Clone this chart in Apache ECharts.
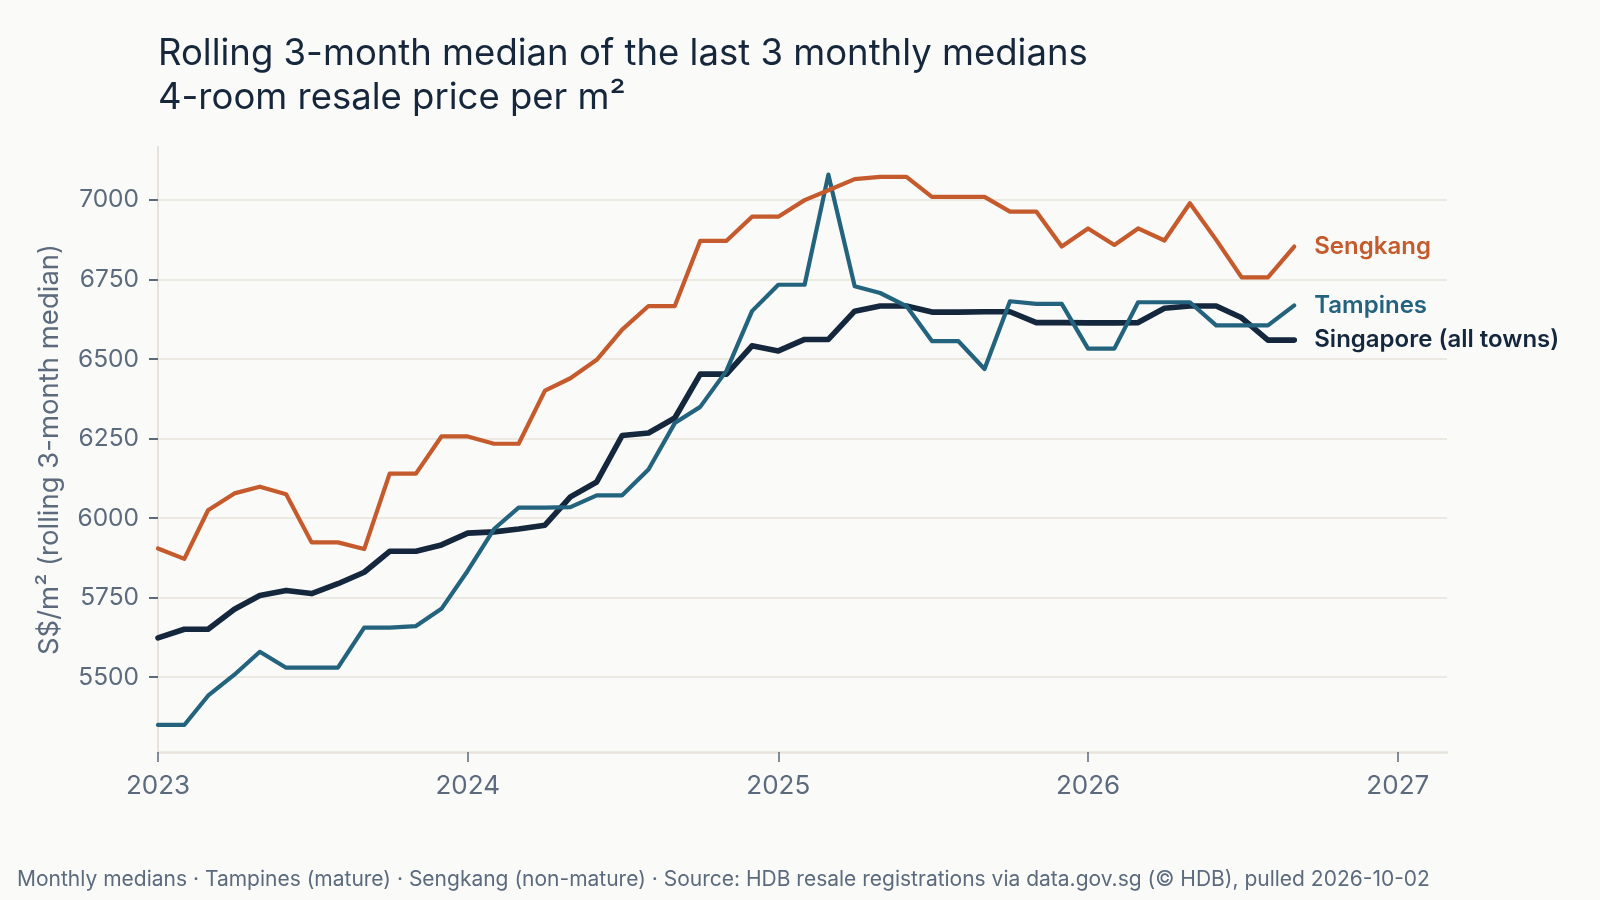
<!DOCTYPE html>
<html>
<head>
<meta charset="utf-8">
<title>4-room resale price per m²</title>
<script src="https://cdn.jsdelivr.net/npm/echarts@6/dist/echarts.min.js"></script>
<style>
  html, body { margin: 0; padding: 0; background: #fafaf8; }
  #chart { width: 1600px; height: 900px; }
</style>
</head>
<body>
<div id="chart"></div>
<script>
// months (first of each month)
var months = [
  '2023-01', '2023-02', '2023-03', '2023-04', '2023-05', '2023-06', '2023-07', '2023-08', '2023-09', '2023-10', '2023-11', '2023-12',
  '2024-01', '2024-02', '2024-03', '2024-04', '2024-05', '2024-06', '2024-07', '2024-08', '2024-09', '2024-10', '2024-11', '2024-12',
  '2025-01', '2025-02', '2025-03', '2025-04', '2025-05', '2025-06', '2025-07', '2025-08', '2025-09', '2025-10', '2025-11', '2025-12',
  '2026-01', '2026-02', '2026-03', '2026-04', '2026-05', '2026-06', '2026-07', '2026-08', '2026-09'
];

// rolling 3-month median, S$/m²
var singapore = [
  5624, 5651, 5651, 5714, 5757, 5773, 5763, 5794, 5830, 5896, 5896, 5916,
  5953, 5957, 5966, 5978, 6067, 6114, 6260, 6268, 6315, 6453, 6453, 6542,
  6526, 6562, 6562, 6651, 6667, 6667, 6648, 6648, 6649, 6649, 6615, 6615,
  6614, 6614, 6615, 6660, 6667, 6667, 6630, 6560, 6560
];
var tampines = [
  5350, 5350, 5442, 5508, 5580, 5530, 5530, 5530, 5656, 5656, 5661, 5715,
  5835, 5966, 6033, 6033, 6035, 6072, 6072, 6153, 6299, 6350, 6464, 6651,
  6734, 6734, 7080, 6729, 6708, 6667, 6557, 6557, 6469, 6682, 6674, 6674,
  6533, 6533, 6679, 6679, 6679, 6606, 6606, 6606, 6669
];
var sengkang = [
  5905, 5872, 6025, 6078, 6099, 6075, 5924, 5924, 5903, 6140, 6140, 6257,
  6257, 6234, 6234, 6401, 6440, 6498, 6593, 6667, 6667, 6872, 6872, 6948,
  6948, 7000, 7031, 7066, 7073, 7073, 7010, 7010, 7010, 6964, 6964, 6854,
  6911, 6859, 6911, 6873, 6990, 6875, 6757, 6757, 6854
];

var yTicks = [5500, 5750, 6000, 6250, 6500, 6750, 7000];
var YEAR = 365 * 24 * 3600 * 1000;

var FONT = 'Inter, "Noto Sans", sans-serif';
var INK = '#16263b';
var SLATE = '#5b6a7c';
var RULE = '#e7e3dc';

function pairs(vals) {
  return months.map(function (m, i) { return [m, vals[i]]; });
}

function line(name, vals, color, width) {
  return {
    name: name,
    type: 'line',
    data: pairs(vals),
    showSymbol: false,
    symbol: 'none',
    lineStyle: { color: color, width: width, join: 'round', cap: 'round' },
    itemStyle: { color: color },
    endLabel: {
      show: true,
      formatter: name,
      distance: 20,
      color: color,
      fontFamily: FONT,
      fontSize: 24,
      fontWeight: 600
    },
    emphasis: { disabled: true }
  };
}

var myChart = echarts.init(document.getElementById('chart'));
myChart.setOption({
  animation: false,
  backgroundColor: '#fafaf8',
  title: [{
    text: 'Rolling 3-month median of the last 3 monthly medians\n4-room resale price per m²',
    left: 158,
    top: 32,
    padding: 0,
    textStyle: { fontFamily: FONT, fontSize: 36.5, lineHeight: 44, fontWeight: 'normal', color: INK }
  }, {
    text: 'Monthly medians · Tampines (mature) · Sengkang (non-mature) · Source: HDB resale registrations via data.gov.sg (© HDB), pulled 2026-10-02',
    left: 17,
    top: 869,
    padding: 0,
    textStyle: { fontFamily: FONT, fontSize: 21, fontWeight: 'normal', color: SLATE }
  }],
  grid: { left: 158, right: 153, top: 147, bottom: 148 },
  xAxis: {
    type: 'time',
    min: '2023-01-01',
    max: '2027-02-28',
    minInterval: YEAR,
    splitNumber: 4,
    axisLine: { show: true, lineStyle: { color: RULE, width: 2.5 } },
    axisTick: { show: true, length: 10, lineStyle: { color: SLATE, width: 1.5 } },
    axisLabel: {
      formatter: '{yyyy}',
      showMinLabel: true,
      showMaxLabel: false,
      fontFamily: FONT, fontSize: 26, color: SLATE, margin: 21
    },
    splitLine: { show: false }
  },
  yAxis: {
    type: 'value',
    min: 5265,
    max: 7167,
    name: 'S$/m² (rolling 3-month median)',
    nameLocation: 'middle',
    nameGap: 94,
    nameTextStyle: { fontFamily: FONT, fontSize: 27.5, color: SLATE },
    axisLine: { show: true, lineStyle: { color: RULE, width: 2 } },
    axisTick: { show: true, length: 9, customValues: yTicks, lineStyle: { color: SLATE, width: 2 } },
    axisLabel: {
      customValues: yTicks,
      formatter: function (v) { return String(v); },
      fontFamily: FONT, fontSize: 24.5, color: SLATE, margin: 19
    },
    splitLine: { show: true, lineStyle: { color: RULE, width: 1.5 } }
  },
  series: [
    line('Singapore (all towns)', singapore, '#14273d', 5.6),
    line('Tampines', tampines, '#23637e', 4.2),
    line('Sengkang', sengkang, '#c55a2c', 4.2)
  ]
});
</script>
</body>
</html>
